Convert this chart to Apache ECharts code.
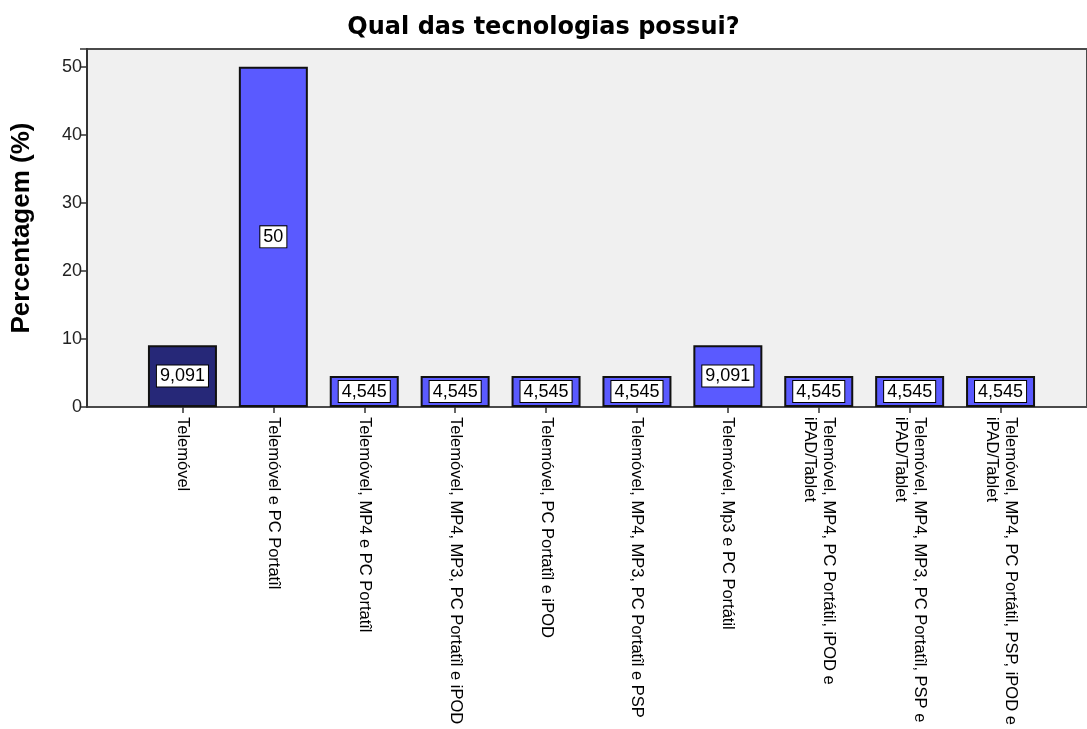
<!DOCTYPE html>
<html>
<head>
<meta charset="utf-8">
<script src="https://cdn.jsdelivr.net/npm/echarts@6/dist/echarts.min.js"></script>
<style>
  html, body { margin: 0; padding: 0; background: #fff; }
  #main { width: 1087px; height: 729px; }
</style>
</head>
<body>
<div id="main"></div>
<script>
// categorias (eixo X)
var categories = [
  'Telemóvel',
  'Telemóvel e PC Portatîl',
  'Telemóvel, MP4 e PC Portatîl',
  'Telemóvel, MP4, MP3, PC Portatîl e iPOD',
  'Telemóvel, PC Portatîl e iPOD',
  'Telemóvel, MP4, MP3, PC Portatîl e PSP',
  'Telemóvel, Mp3 e PC Portátil',
  'Telemóvel, MP4, PC Portátil, iPOD e\niPAD/Tablet',
  'Telemóvel, MP4, MP3, PC Portatîl, PSP e\niPAD/Tablet',
  'Telemóvel, MP4, PC Portátil, PSP, iPOD e\niPAD/Tablet'
];
// percentagens
var percentages = [9.091, 50, 4.545, 4.545, 4.545, 4.545, 9.091, 4.545, 4.545, 4.545];
var yTicks = [0, 10, 20, 30, 40, 50];

var chartDom = document.getElementById('main');
var myChart = echarts.init(chartDom);

var yMax = 52.6;
var font = 'Liberation Sans, Arial, sans-serif';

var option = {
  animation: false,
  title: {
    text: 'Qual das tecnologias possui?',
    left: 'center',
    top: 11,
    textStyle: { fontFamily: 'DejaVu Sans, sans-serif', fontSize: 24, fontWeight: 'bold', color: '#000' }
  },
  grid: [
    {
      // painel de fundo
      left: 87, top: 49, bottom: 322, width: 1020,
      show: true,
      backgroundColor: '#f0f0f0',
      borderColor: '#4a4a4a',
      borderWidth: 2
    },
    {
      left: 137, top: 49, bottom: 322, right: 41
    }
  ],
  xAxis: [
    { type: 'value', gridIndex: 0, show: false },
    {
      type: 'category',
      gridIndex: 1,
      data: categories,
      axisLine: { show: false },
      axisTick: { show: true, alignWithLabel: true, length: 6, lineStyle: { color: '#333', width: 1.5 } },
      axisLabel: {
        interval: 0,
        rotate: -90,
        margin: 10,
        fontFamily: font,
        fontSize: 16.5,
        lineHeight: 19,
        color: '#000'
      }
    }
  ],
  yAxis: [
    {
      type: 'value',
      gridIndex: 0,
      min: 0,
      max: yMax,
      interval: 10,
      name: 'Percentagem (%)',
      nameLocation: 'middle',
      nameGap: 52,
      nameTextStyle: { fontFamily: font, fontSize: 26, fontWeight: 'bold', color: '#000' },
      axisLine: { show: true, lineStyle: { color: '#333', width: 2 } },
      axisTick: { show: true, length: 7, lineStyle: { color: '#333', width: 1.5 } },
      axisLabel: {
        fontFamily: font,
        fontSize: 18,
        color: '#222',
        margin: 5,
        formatter: function (v) { return yTicks.indexOf(v) >= 0 ? String(v) : ''; }
      },
      splitLine: { show: false }
    },
    { type: 'value', gridIndex: 1, min: 0, max: yMax, show: false, splitLine: { show: false } }
  ],
  series: [
    {
      type: 'bar',
      xAxisIndex: 1,
      yAxisIndex: 1,
      barWidth: 69,
      data: percentages,
      itemStyle: {
        color: function (p) { return p.dataIndex === 0 ? '#262878' : '#5a5aff'; },
        borderColor: '#111',
        borderWidth: 2
      },
      label: {
        show: true,
        position: 'inside',
        fontFamily: font,
        fontSize: 18,
        color: '#000',
        backgroundColor: '#fff',
        borderColor: '#000',
        borderWidth: 1,
        padding: [2, 3, 1, 3],
        formatter: function (p) { return String(p.value).replace('.', ','); }
      }
    }
  ]
};

myChart.setOption(option);
</script>
</body>
</html>
